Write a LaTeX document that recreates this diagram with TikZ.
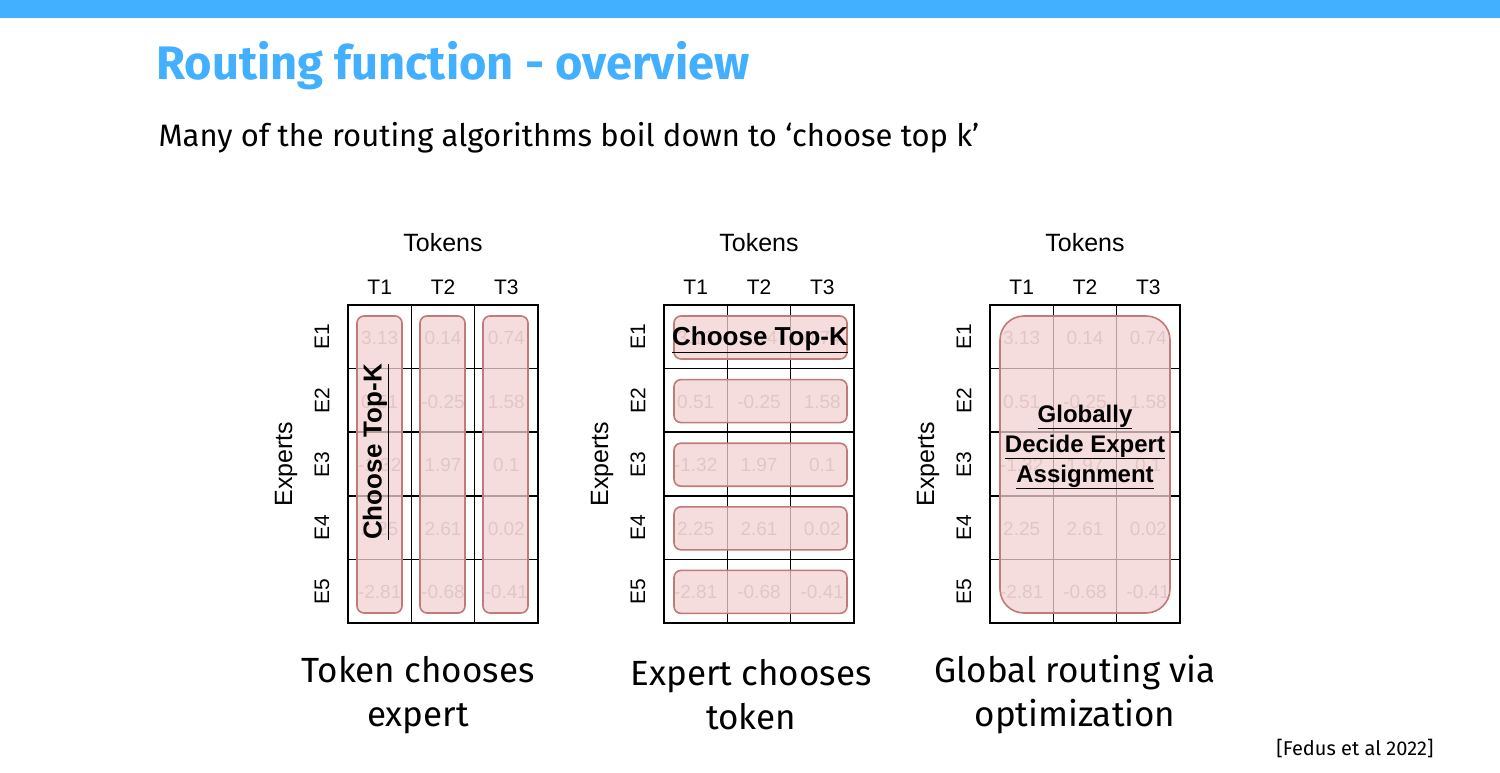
\documentclass[tikz,border=0pt]{standalone}
\usepackage{fontspec}
\setmainfont{Liberation Sans}
\newfontfamily\slidefont{Fira Sans}
\definecolor{barblue}{HTML}{42AFFF}
\definecolor{pinkfill}{HTML}{F2D2D2}
\definecolor{pinkline}{HTML}{C07A7A}
\definecolor{valgray}{HTML}{B8A0A0}
\begin{document}
\begin{tikzpicture}[x=1pt,y=-1pt,
  cellv/.style={font=\fontsize{19}{19}\selectfont, text=valgray, inner sep=0pt},
  lab/.style={font=\fontsize{21}{21}\selectfont},
  ttl/.style={font=\fontsize{25}{25}\selectfont},
  pbox/.style={draw=pinkline, line width=1.6pt, fill=pinkfill, fill opacity=0.75},
  grid/.style={line width=1.5pt},
  bigtxt/.style={font=\fontsize{26}{26}\selectfont\bfseries, align=center, inner sep=0pt},
  captxt/.style={font=\slidefont\fontsize{35}{44}\selectfont, align=center}]
\useasboundingbox (0,0) rectangle (1500,773);
\fill[barblue] (0,0) rectangle (1500,18);
\node[anchor=west, text=barblue, font=\slidefont\bfseries\fontsize{47}{47}\selectfont] (title) at (153,66) {Routing function - overview};
\node[anchor=west, font=\slidefont\fontsize{31}{31}\selectfont] (sub) at (155,138) {Many of the routing algorithms boil down to ‘choose top k’};
\foreach \gx/\g in {348/a,664/b,990/c}{
  \node[ttl] (tok\g) at (\gx+95,243) {Tokens};
  \node[ttl, rotate=90] (exp\g) at (\gx-62,464) {Experts};
  \foreach \j in {1,2,3}{\node[lab] (T\g\j) at (\gx+31.7+63.3*\j-63.3,287) {T\j};}
  \foreach \i in {1,...,5}{\node[lab, rotate=90] (E\g\i) at (\gx-26,337+63.6*\i-63.6) {E\i};}
}
% grids and values
\foreach \gx/\g in {348/a,664/b,990/c}{
  \foreach \r [count=\i] in {{3.13,0.14,0.74},{0.51,-0.25,1.58},{-1.32,1.97,0.1},{2.25,2.61,0.02},{-2.81,-0.68,-0.41}}{
    \foreach \v [count=\j] in \r {
      \node[cellv] (v\g\i\j) at (\gx+31.7+63.3*\j-63.3,338+63.6*\i-63.6) {\v};
    }
  }
  \draw[grid] (\gx,305) rectangle (\gx+190,623);
  \foreach \k in {1,2}{\draw[grid] (\gx+63.3*\k,305) -- (\gx+63.3*\k,623);}
  \foreach \k in {1,...,4}{\draw[grid] (\gx,305+63.6*\k) -- (\gx+190,305+63.6*\k);}
}
% pink boxes (over grid)
\foreach \x in {357,420,483}{\draw[pbox, rounded corners=7pt] (\x,316) rectangle (\x+45,613);}
\foreach \i in {0,...,4}{\draw[pbox, rounded corners=7pt] (674,316+63.6*\i) rectangle (847,359+63.6*\i);}
\draw[pbox, rounded corners=24pt] (1000,316) rectangle (1170,613);
\node[bigtxt, rotate=90] (ka) at (376,452) {\underline{Choose Top-K}};
\node[bigtxt] (kb) at (760,340) {\underline{Choose Top-K}};
\node[bigtxt, font=\fontsize{24}{30}\selectfont\bfseries] (kc) at (1085,447) {\underline{Globally}\\[0pt]\underline{Decide Expert}\\[0pt]\underline{Assignment}};
\node[captxt] (ca) at (418,695) {Token chooses\\expert};
\node[captxt] (cb) at (751,695) {Expert chooses\\token};
\node[captxt] (cc) at (1075,695) {Global routing via\\optimization};
\node[anchor=east, font=\slidefont\fontsize{20}{20}\selectfont] (ref) at (1437,748) {[Fedus et al 2022]};
\end{tikzpicture}
\end{document}
